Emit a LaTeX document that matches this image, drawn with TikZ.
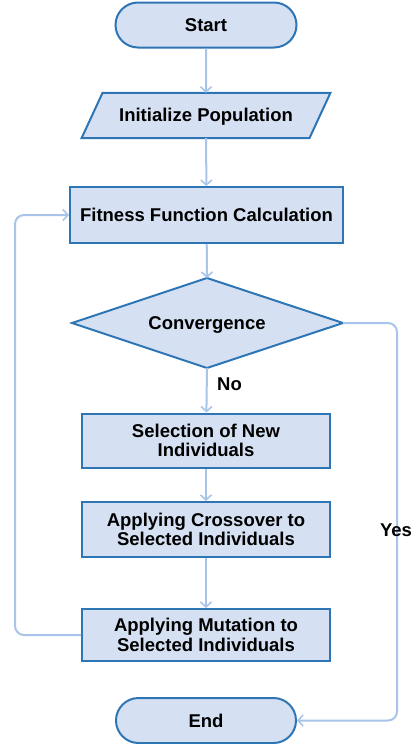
\documentclass[tikz,border=0pt]{standalone}
\usepackage{fontspec}
\setmainfont{Liberation Sans}
\usetikzlibrary{arrows.meta,calc,shapes.misc}
\definecolor{boxfill}{HTML}{D5E1F3}
\definecolor{boxedge}{HTML}{2E75B6}
\definecolor{linkcol}{HTML}{A8C4EA}
\begin{document}
\begin{tikzpicture}[x=1pt,y=-1pt,
  font=\fontsize{18.5}{19.5}\selectfont\bfseries,
  base/.style={fill=boxfill,draw=boxedge,line width=2pt,inner sep=0pt,align=center},
  procbox/.style={base,rectangle,minimum width=#1,minimum height=54},
  procbox/.default=248,
  terminal/.style={base,rounded rectangle,minimum width=181,minimum height=45},
  decision/.style={base,draw=none,fill=none},
  link/.style={draw=linkcol,line width=2pt,-{Straight Barb[length=5pt,width=11pt,line width=1.6pt]},rounded corners=9pt},
  tag/.style={inner sep=0pt}]
\useasboundingbox (0,0) rectangle (417,744);

% terminals and process boxes
\node[terminal] (start) at (206,25) {Start};
\node[inner sep=0pt,minimum width=227.5,minimum height=45] (init) at (206,115.5) {};
\path[fill=boxfill,draw=boxedge,line width=2pt,line join=miter]
  ($(init.north west)+(10.5,0)$) -- ($(init.north east)+(10.5,0)$) --
  ($(init.south east)+(-10.5,0)$) -- ($(init.south west)+(-10.5,0)$) -- cycle;
\node at ($(init)+(0,1)$) {Initialize Population};

\node[procbox=273,minimum height=56] (fit) at (206.5,215) {Fitness Function Calculation};

% decision diamond
\coordinate (convL) at (72,323);
\coordinate (convR) at (343,323);
\coordinate (convT) at (207,278);
\coordinate (convB) at (207,368);
\path[fill=boxfill,draw=boxedge,line width=2pt,line join=miter]
  (convT) -- (convR) -- (convB) -- (convL) -- cycle;
\node[decision] (conv) at (207,325) {Convergence};

\node[procbox] (sel) at (206,440.5) {Selection of New\\Individuals};
\node[procbox,minimum height=55] (cross) at (206,529.5) {Applying Crossover to\\Selected Individuals};
\node[procbox,minimum height=52] (mut) at (206,635) {Applying Mutation to\\Selected Individuals};
\node[terminal,minimum width=180,minimum height=45] (end) at (206,720.5) {End};

% connectors
\draw[link] (start) -- (init);
\draw[link] (init) -- (fit);
\draw[link] (fit) -- (convT);
\draw[link] (convB) -- (sel);
\draw[link] (sel) -- (cross);
\draw[link] (cross) -- (mut);
\coordinate (loopL) at (15,635);
\coordinate (yesR) at (397,323);
\draw[link] (mut.west) -- (loopL) |- (fit.west);
\draw[link] (convR) -- (yesR) |- (end.east);

% branch labels
\node[tag] (no) at (229.5,384) {No};
\node[tag] (yes) at (396,530) {Yes};
\end{tikzpicture}
\end{document}
